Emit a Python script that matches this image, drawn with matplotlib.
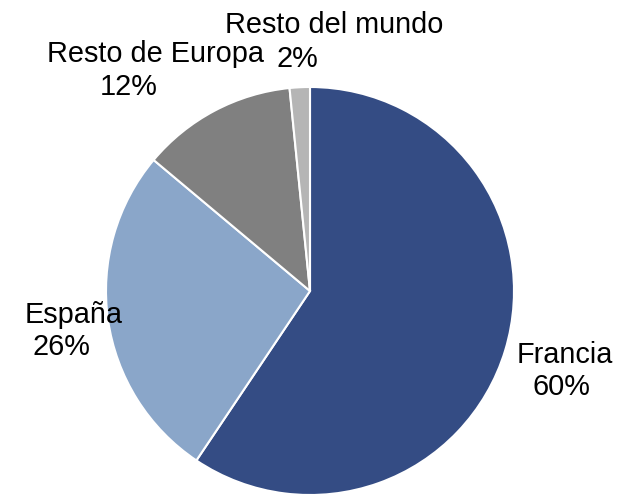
import matplotlib
matplotlib.use("Agg")
import matplotlib.pyplot as plt

# datos
regiones = ["Francia", "España", "Resto de Europa", "Resto del mundo"]
valores = [59.4, 26.7, 12.3, 1.6]
etiquetas_pct = ["60%", "26%", "12%", "2%"]
colores = ["#344c84", "#8aa6c9", "#808080", "#b5b5b5"]

plt.rcParams['font.family'] = ['Liberation Sans', 'DejaVu Sans']

W, H = 630, 494
fig = plt.figure(figsize=(W / 100, H / 100), dpi=100)

# pie centrado en (310, 291) px, radio 204 px
cx, cy, r = 310, 291, 204
ax = fig.add_axes([(cx - r) / W, (H - cy - r) / H, 2 * r / W, 2 * r / H])
ax.pie(valores, colors=colores, startangle=90, counterclock=False,
       wedgeprops=dict(edgecolor='white', linewidth=1.5))
ax.set_xlim(-1, 1)
ax.set_ylim(-1, 1)
ax.set_aspect('equal')
ax.axis('off')

# posiciones de etiquetas (px, izquierda / linea base)
pos_nombre = [(517, 363), (25, 323), (47, 62), (225, 33)]
pos_pct = [(533, 395), (32, 355), (100, 95), (276, 67)]

for nombre, pct, pn, pp in zip(regiones, etiquetas_pct, pos_nombre, pos_pct):
    fig.text(pn[0] / W, 1 - pn[1] / H, nombre, fontsize=20.8, ha='left', va='baseline')
    fig.text(pp[0] / W, 1 - pp[1] / H, pct, fontsize=20.8, ha='left', va='baseline')

fig.savefig("out.png", dpi=100)
